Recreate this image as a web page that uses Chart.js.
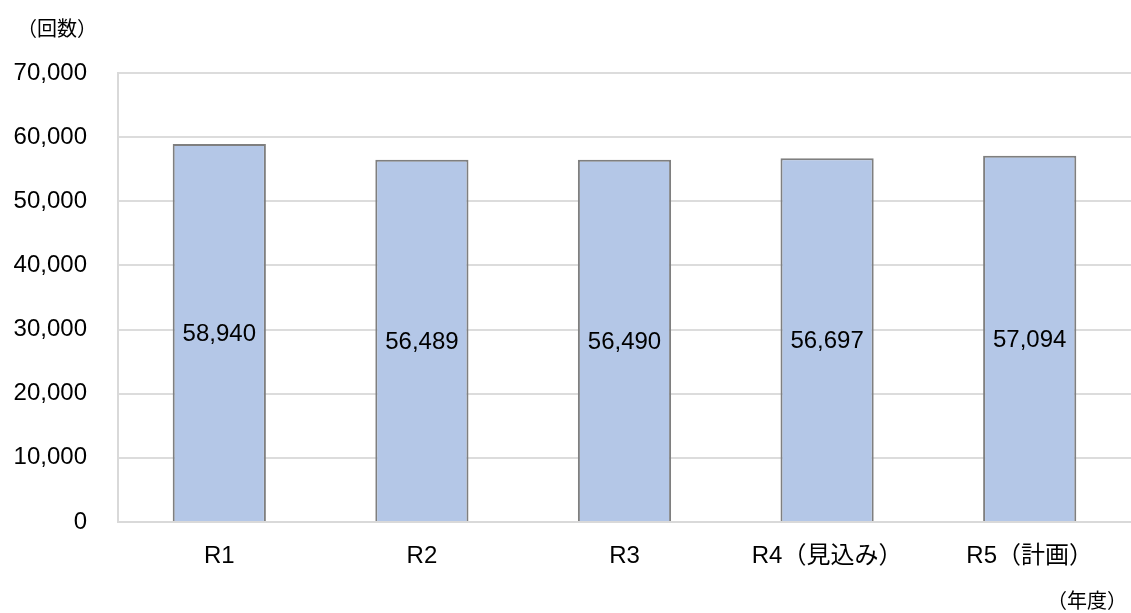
<!DOCTYPE html>
<html lang="ja">
<head>
<meta charset="utf-8">
<title>回数</title>
<script src="https://cdn.jsdelivr.net/npm/chart.js@4.4.0/dist/chart.umd.min.js"></script>
<style>
    html, body { margin: 0; padding: 0; background: #fff; }
    #wrap { width: 1131px; height: 613px; }
</style>
</head>
<body>
<div id="wrap"><canvas id="countChart" width="1131" height="613"></canvas></div>
<script>
// data
const categories = ['R1', 'R2', 'R3', 'R4（見込み）', 'R5（計画）'];
const counts = [58940, 56489, 56490, 56697, 57094];
const yTicks = [0, 10000, 20000, 30000, 40000, 50000, 60000, 70000];

const FONT = "'Liberation Sans', Arial, 'Noto Sans CJK JP', sans-serif";
const CJK = "'Noto Sans CJK JP', sans-serif";
const fmt = v => v.toLocaleString('en-US');

// value labels in the middle of each bar
const barLabels = {
    id: 'barLabels',
    afterDatasetsDraw(chart) {
        const ctx = chart.ctx;
        const meta = chart.getDatasetMeta(0);
        ctx.save();
        ctx.font = '24px ' + FONT;
        ctx.fillStyle = '#000';
        ctx.textAlign = 'center';
        ctx.textBaseline = 'middle';
        meta.data.forEach((bar, i) => {
            ctx.fillText(fmt(counts[i]), bar.x, (bar.y + bar.base) / 2 + 2);
        });
        ctx.restore();
    }
};

// unit captions: （回数） top left, （年度） bottom right
const unitLabels = {
    id: 'unitLabels',
    afterDraw(chart) {
        const ctx = chart.ctx;
        ctx.save();
        ctx.font = '20px ' + CJK;
        ctx.fillStyle = '#000';
        ctx.textBaseline = 'middle';
        ctx.textAlign = 'left';
        ctx.fillText('（回数）', 17, 28);
        ctx.textAlign = 'right';
        ctx.fillText('（年度）', 1127, 600);
        ctx.restore();
    }
};

document.addEventListener('DOMContentLoaded', function() {
    const ctx = document.getElementById('countChart');
    new Chart(ctx.getContext('2d'), {
        type: 'bar',
        data: {
            labels: categories,
            datasets: [{
                data: counts,
                backgroundColor: '#b4c7e7',
                borderColor: '#7f7f7f',
                borderWidth: 2,
                barPercentage: 0.92,
                categoryPercentage: 0.5
            }]
        },
        options: {
            responsive: false,
            animation: false,
            layout: {
                padding: { top: 73, left: 0, right: 0, bottom: 0 }
            },
            plugins: {
                legend: { display: false },
                tooltip: { enabled: false }
            },
            scales: {
                x: {
                    grid: { display: false, drawTicks: false },
                    border: { color: '#d9d9d9', width: 2 },
                    ticks: {
                        color: '#000',
                        padding: 20,
                        maxRotation: 0,
                        font: { family: FONT, size: 24 }
                    },
                    afterFit(scale) { scale.height = 91; }
                },
                y: {
                    min: 0,
                    max: 70000,
                    afterBuildTicks(scale) {
                        scale.ticks = yTicks.map(v => ({ value: v }));
                    },
                    grid: { color: '#dcdcdc', lineWidth: 2, drawTicks: false },
                    border: { color: '#d9d9d9', width: 2 },
                    ticks: {
                        color: '#000',
                        padding: 31,
                        font: { family: FONT, size: 24 },
                        callback: v => fmt(v)
                    },
                    afterFit(scale) { scale.width = 118; }
                }
            }
        },
        plugins: [barLabels, unitLabels]
    });
});
</script>
</body>
</html>
